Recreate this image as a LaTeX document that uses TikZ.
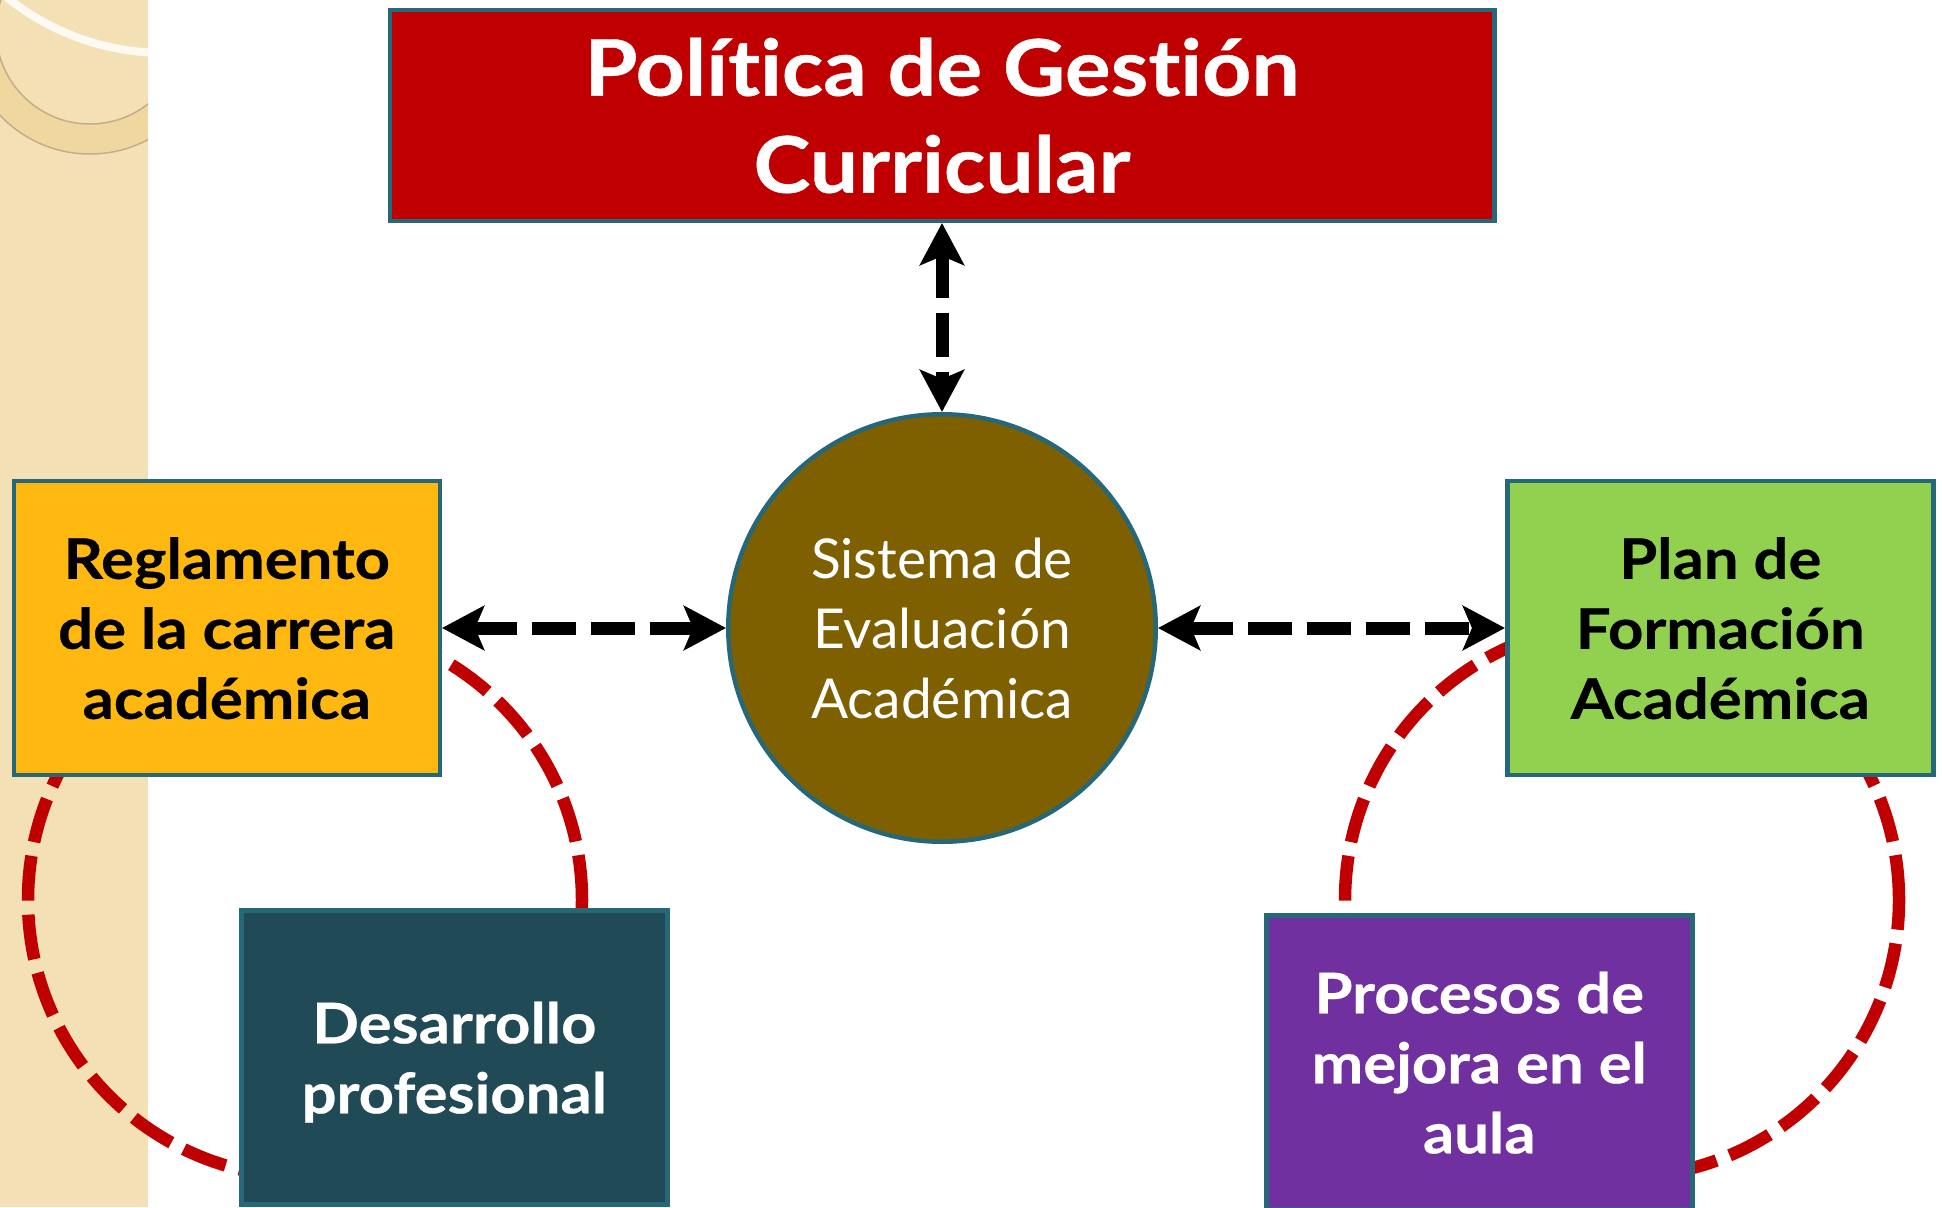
\documentclass[tikz,border=0pt]{standalone}
\usepackage{fontspec}
\setmainfont{Lato}[Ligatures=NoCommon]
\newfontfamily\boxfont{Lato}[Ligatures=NoCommon, FakeStretch=1.1, BoldFeatures={FakeBold=0.5}]
\usepackage{tikz}
\usetikzlibrary{arrows.meta, positioning, calc}
\definecolor{polred}{HTML}{C00000}
\definecolor{bordteal}{HTML}{276878}
\definecolor{reglorange}{HTML}{FFB80F}
\definecolor{plangreen}{HTML}{92D050}
\definecolor{evalbrown}{HTML}{7F6000}
\definecolor{desateal}{HTML}{1F4A56}
\definecolor{mejpurple}{HTML}{7030A0}
\definecolor{stripbeige}{HTML}{F3E0B4}
\definecolor{bandgold}{HTML}{F0D7A0}
\definecolor{bandline}{HTML}{C2AE88}
\tikzset{
    box/.style={
        rectangle,
        draw=bordteal,
        line width=4.5pt,
        minimum width=426pt,
        minimum height=294pt,
        inner sep=0pt,
        text depth=0pt,
        align=center,
        font=\boxfont\bfseries\fontsize{56}{70}\selectfont,
    },
    policy/.style={
        rectangle,
        draw=bordteal,
        fill=polred,
        text=white,
        line width=4.5pt,
        minimum width=1104.5pt,
        minimum height=210.5pt,
        inner sep=0pt,
        align=center,
        font=\boxfont\bfseries\fontsize{78}{97}\selectfont,
    },
    evalc/.style={
        circle,
        draw=bordteal,
        fill=evalbrown,
        text=white,
        line width=4.5pt,
        minimum size=427.5pt,
        inner sep=0pt,
        align=center,
        font=\fontsize{55}{70}\selectfont,
    },
    link/.style={
        <->,
        line width=13pt,
        dash pattern=on 44pt off 15pt,
    },
    ring/.style={
        draw=polred,
        line width=12.5pt,
        dash pattern=on 45pt off 14pt,
    },
}
\begin{document}
\begin{tikzpicture}[x=1pt,y=-1pt,>={Stealth[length=42pt,width=44pt,inset=9pt]}]
      \useasboundingbox (0,0) rectangle (1942,1207);

      % franja lateral
      \fill[stripbeige] (0,0) rectangle (148,1207);
      \begin{scope}
        \clip (0,0) rectangle (148,1207);
        \filldraw[fill=bandgold, draw=bandline, line width=1.5pt, even odd rule]
            (90,30) circle[radius=124pt] (90,30) circle[radius=94pt];
        \draw[white!85!stripbeige, line width=8pt] (165,-200) circle[radius=253pt];
      \end{scope}

      % ciclos
      \draw[ring] (305,900) circle[radius=277pt];
      \draw[ring] (1622,900) circle[radius=277pt];

      \node [evalc] (eval) at (942,628) {Sistema de\\Evaluación\\Académica};
      \node [policy] (pol) [above=189pt of eval] {Política de Gestión\\Curricular};

      \node [box, fill=reglorange] (regl) [left=284pt of eval] {Reglamento\\de la carrera\\académica};
      \node [box, fill=plangreen] (plan) [right=347pt of eval] {Plan de\\Formación\\Académica};

      \node [box, fill=desateal, text=white] (desa) [below=131pt of regl, xshift=227.5pt] {Desarrollo\\profesional};
      \node [box, fill=mejpurple, text=white] (mejo) [below=136pt of plan, xshift=-241pt] {Procesos de\\mejora en el\\aula};

      \path[link] (pol) edge (eval);
      \path[link] (regl) edge (eval);
      \path[link] (eval) edge (plan);

\end{tikzpicture}
\end{document}
